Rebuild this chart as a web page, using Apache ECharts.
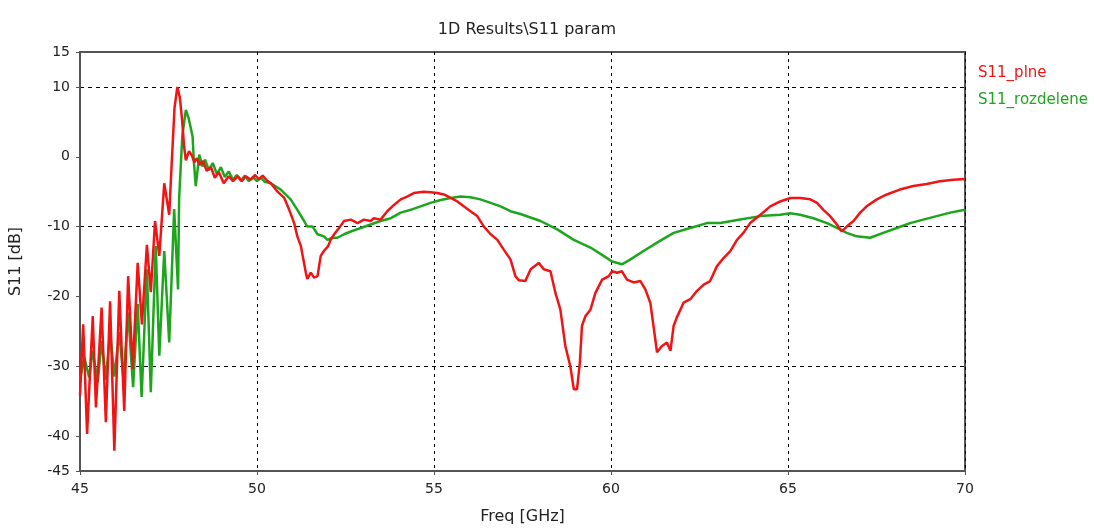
<!DOCTYPE html>
<html>
<head>
<meta charset="utf-8">
<script src="https://cdn.jsdelivr.net/npm/echarts@6/dist/echarts.min.js"></script>
<style>
  html, body { margin: 0; padding: 0; background: #fff; }
  #chart { width: 1094px; height: 530px; }
</style>
</head>
<body>
<div id="chart"></div>
<script>
// S11 curves, [freq GHz, dB]
const s11Plne = [
  [45.00, -34.2], [45.09, -24.0], [45.20, -39.7], [45.36, -22.8], [45.45, -35.9],
  [45.61, -21.6], [45.73, -38.0], [45.85, -20.7], [45.97, -42.1], [46.11, -19.2],
  [46.25, -36.4], [46.36, -17.1], [46.49, -30.4], [46.63, -15.2], [46.75, -24.0],
  [46.89, -12.6], [47.00, -19.4], [47.12, -9.2], [47.24, -14.2], [47.38, -3.8],
  [47.52, -8.3], [47.58, -2.0], [47.67, 7.0], [47.75, 10.0], [47.82, 8.5],
  [47.88, 5.5], [47.94, 1.5], [47.99, -0.5], [48.08, 0.8], [48.16, 0.2],
  [48.23, -0.8], [48.30, -0.2], [48.39, -1.2], [48.47, -0.6], [48.58, -2.0],
  [48.70, -1.5], [48.81, -3.0], [48.92, -2.2], [49.06, -3.8], [49.20, -2.8],
  [49.32, -3.5], [49.46, -2.8], [49.57, -3.5], [49.68, -2.8], [49.83, -3.3],
  [49.94, -2.6], [50.05, -3.2], [50.16, -2.7], [50.28, -3.4], [50.39, -3.8],
  [50.58, -5.0], [50.77, -5.9], [50.91, -7.6], [51.05, -9.5], [51.14, -11.4],
  [51.24, -12.8], [51.31, -14.7], [51.38, -16.6], [51.42, -17.5], [51.52, -16.6],
  [51.61, -17.3], [51.71, -17.1], [51.80, -14.2], [51.89, -13.5], [52.01, -12.8],
  [52.08, -11.9], [52.18, -11.1], [52.36, -9.9], [52.46, -9.2], [52.65, -9.0],
  [52.84, -9.5], [53.02, -9.0], [53.21, -9.2], [53.30, -8.8], [53.49, -9.0],
  [53.68, -7.8], [53.87, -6.9], [54.06, -6.1], [54.24, -5.7], [54.43, -5.2],
  [54.71, -5.0], [54.90, -5.1], [55.09, -5.2], [55.28, -5.4], [55.47, -5.9],
  [55.66, -6.4], [55.84, -7.1], [56.03, -7.8], [56.22, -8.5], [56.41, -10.0],
  [56.60, -11.1], [56.79, -11.9], [56.97, -13.3], [57.16, -14.7], [57.30, -17.1],
  [57.40, -17.7], [57.58, -17.8], [57.73, -16.1], [57.96, -15.2], [58.10, -16.1],
  [58.29, -16.4], [58.43, -19.5], [58.57, -21.9], [58.71, -27.1], [58.85, -30.0],
  [58.95, -33.3], [59.04, -33.3], [59.12, -29.5], [59.18, -24.2], [59.28, -22.8],
  [59.42, -21.9], [59.56, -19.5], [59.75, -17.6], [59.94, -17.1], [60.03, -16.4],
  [60.17, -16.6], [60.31, -16.4], [60.45, -17.6], [60.64, -18.0], [60.83, -17.8],
  [60.97, -19.0], [61.11, -20.9], [61.20, -24.2], [61.30, -28.0], [61.44, -27.1],
  [61.58, -26.6], [61.68, -27.8], [61.77, -24.2], [61.86, -23.0], [62.05, -20.9],
  [62.24, -20.4], [62.43, -19.2], [62.62, -18.3], [62.80, -17.8], [62.99, -15.7],
  [63.18, -14.5], [63.37, -13.5], [63.56, -11.9], [63.74, -10.9], [63.93, -9.5],
  [64.22, -8.3], [64.50, -7.1], [64.78, -6.4], [65.07, -5.9], [65.34, -5.9],
  [65.63, -6.1], [65.82, -6.6], [66.00, -7.6], [66.19, -8.5], [66.38, -9.7],
  [66.52, -10.7], [66.66, -10.0], [66.85, -9.2], [67.04, -8.0], [67.22, -7.1],
  [67.51, -6.1], [67.79, -5.4], [68.16, -4.7], [68.54, -4.2], [68.92, -3.9],
  [69.29, -3.5], [69.67, -3.3], [70.00, -3.2]
];

const s11Rozdelene = [
  [45.00, -32.0], [45.12, -28.7], [45.26, -31.6], [45.36, -27.8], [45.50, -32.3],
  [45.61, -26.4], [45.73, -31.9], [45.85, -25.1], [45.97, -31.5], [46.11, -25.1],
  [46.23, -31.9], [46.36, -22.3], [46.50, -33.0], [46.63, -21.1], [46.74, -34.4],
  [46.89, -16.1], [47.00, -33.7], [47.14, -12.8], [47.24, -28.5], [47.38, -13.5],
  [47.52, -26.6], [47.66, -7.5], [47.77, -19.0], [47.80, -6.0], [47.89, 3.0],
  [47.99, 6.7], [48.07, 5.5], [48.18, 2.9], [48.22, -0.9], [48.27, -4.2],
  [48.37, 0.3], [48.46, -1.4], [48.53, -0.4], [48.64, -1.9], [48.75, -0.9],
  [48.87, -2.5], [48.98, -1.5], [49.09, -2.9], [49.20, -2.1], [49.32, -3.3],
  [49.43, -2.6], [49.54, -3.4], [49.66, -2.7], [49.77, -3.5], [49.88, -2.9],
  [50.00, -3.5], [50.11, -3.0], [50.22, -3.6], [50.39, -3.8], [50.67, -4.7],
  [50.95, -6.1], [51.14, -7.6], [51.33, -9.2], [51.42, -10.0], [51.57, -10.0],
  [51.71, -11.1], [51.89, -11.4], [51.99, -11.9], [52.13, -11.6], [52.27, -11.6],
  [52.46, -11.1], [52.65, -10.7], [52.93, -10.2], [53.21, -9.7], [53.49, -9.2],
  [53.78, -8.8], [54.06, -8.0], [54.34, -7.6], [54.62, -7.1], [54.90, -6.6],
  [55.19, -6.2], [55.47, -5.9], [55.75, -5.7], [56.03, -5.8], [56.31, -6.1],
  [56.60, -6.6], [56.88, -7.1], [57.16, -7.8], [57.44, -8.2], [58.01, -9.2],
  [58.48, -10.4], [58.95, -11.9], [59.42, -13.0], [59.79, -14.2], [60.03, -15.0],
  [60.31, -15.4], [60.55, -14.7], [60.92, -13.5], [61.30, -12.3], [61.77, -10.9],
  [62.24, -10.2], [62.71, -9.5], [63.09, -9.5], [63.65, -9.0], [64.22, -8.5],
  [64.78, -8.3], [65.06, -8.1], [65.34, -8.3], [65.72, -8.8], [66.10, -9.5],
  [66.38, -10.2], [66.66, -10.9], [66.94, -11.4], [67.32, -11.6], [67.69, -10.9],
  [68.07, -10.2], [68.45, -9.5], [68.82, -9.0], [69.20, -8.5], [69.58, -8.0],
  [70.00, -7.6]
];

const yLabels = [15, 10, 0, -10, -20, -30, -40, -45];
const seriesNames = ['S11_plne', 'S11_rozdelene'];
const seriesColors = ['#f01414', '#1ea51e'];

const font = "'DejaVu Sans', sans-serif";

const chart = echarts.init(document.getElementById('chart'));

chart.setOption({
  animation: false,
  backgroundColor: '#fff',
  title: {
    text: '1D Results\\S11 param',
    left: 522,
    textAlign: 'center',
    top: 17,
    textStyle: { fontFamily: font, fontSize: 16, fontWeight: 'normal', color: '#222' }
  },
  legend: {
    orient: 'vertical',
    left: 968,
    top: 61,
    itemWidth: 0,
    itemHeight: 15,
    itemGap: 12,
    icon: 'rect',
    selectedMode: false,
    data: seriesNames.map((n, i) => ({
      name: n,
      textStyle: { color: seriesColors[i], fontFamily: font, fontSize: 15 }
    }))
  },
  grid: {
    left: 79,
    right: 129,
    top: 52,
    bottom: 58,
    show: true,
    borderColor: '#555',
    borderWidth: 2
  },
  xAxis: {
    type: 'value',
    min: 45,
    max: 70,
    interval: 5,
    name: 'Freq [GHz]',
    nameLocation: 'middle',
    nameGap: 38,
    nameTextStyle: { fontFamily: font, fontSize: 16, color: '#222' },
    axisLine: { onZero: false, lineStyle: { color: '#555', width: 2 } },
    axisTick: { show: true, length: 4, lineStyle: { color: '#555' } },
    axisLabel: { fontFamily: font, fontSize: 14, color: '#222', margin: 11 },
    splitLine: { show: true, lineStyle: { color: '#000', type: [3, 4], width: 1 } }
  },
  yAxis: {
    type: 'value',
    min: -45,
    max: 15,
    interval: 5,
    name: 'S11 [dB]',
    nameLocation: 'middle',
    nameGap: 56,
    nameRotate: 90,
    nameTextStyle: { fontFamily: font, fontSize: 16, color: '#222' },
    axisLine: { lineStyle: { color: '#555', width: 2 } },
    axisTick: { show: true, length: 4, lineStyle: { color: '#555' }, customValues: yLabels },
    axisLabel: {
      fontFamily: font, fontSize: 14, color: '#222', margin: 10,
      formatter: v => (yLabels.indexOf(v) >= 0 ? String(v) : '')
    },
    splitLine: {
      show: true,
      showMinLine: true,
      showMaxLine: true,
      lineStyle: { color: ['transparent', '#000'], type: [4, 4], width: 1 }
    }
  },
  series: [
    {
      name: seriesNames[0],
      type: 'line',
      data: s11Plne,
      showSymbol: false,
      lineStyle: { color: seriesColors[0], width: 2.5 },
      itemStyle: { color: seriesColors[0] },
      z: 3
    },
    {
      name: seriesNames[1],
      type: 'line',
      data: s11Rozdelene,
      showSymbol: false,
      lineStyle: { color: seriesColors[1], width: 2.5 },
      itemStyle: { color: seriesColors[1] },
      z: 2
    }
  ]
});
</script>
</body>
</html>
